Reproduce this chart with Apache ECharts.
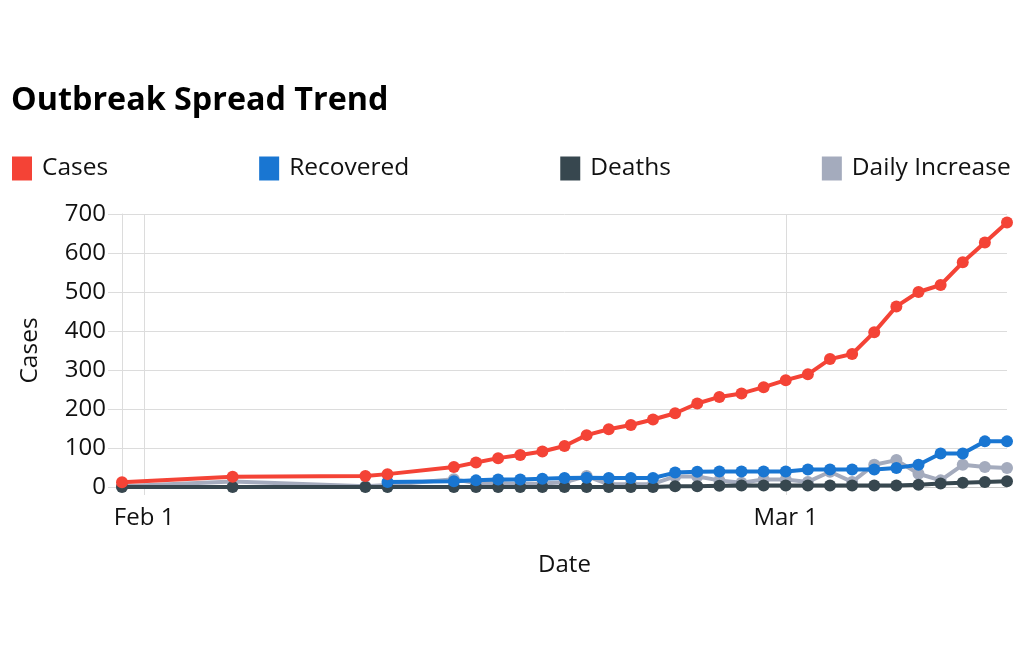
<!DOCTYPE html>
<html>
<head>
<meta charset="utf-8">
<script src="https://cdn.jsdelivr.net/npm/echarts@6/dist/echarts.min.js"></script>
<style>
html, body { margin: 0; padding: 0; background: #fff; }
#chart { width: 1024px; height: 667px; }
</style>
</head>
<body>
<div id="chart"></div>
<script>
var dates = ['2020-01-31', '2020-02-05', '2020-02-11', '2020-02-12', '2020-02-15', '2020-02-16',
    '2020-02-17', '2020-02-18', '2020-02-19', '2020-02-20', '2020-02-21', '2020-02-22', '2020-02-23',
    '2020-02-24', '2020-02-25', '2020-02-26', '2020-02-27', '2020-02-28', '2020-02-29', '2020-03-01',
    '2020-03-02', '2020-03-03', '2020-03-04', '2020-03-05', '2020-03-06', '2020-03-07', '2020-03-08',
    '2020-03-09', '2020-03-10', '2020-03-11'];
var cases = [12, 26, 28, 33, 51, 63, 74, 82, 91, 105, 133, 148, 159, 173, 189, 214, 231, 240, 256, 274,
    289, 328, 341, 397, 463, 500, 518, 576, 627, 678];
var recovered = [null, null, null, 13, 15, 17, 19, 19, 21, 23, 24, 23, 23, 23, 37, 39, 40, 40, 40, 40,
    45, 45, 45, 45, 49, 57, 86, 86, 117, 117];
var deaths = [0, 0, 0, 0, 0, 0, 0, 0, 0, 0, 0, 0, 0, 0, 2, 2, 3, 4, 4, 4,
    4, 4, 4, 4, 4, 6, 9, 11, 13, 15];
var dailyIncrease = [2, 14, 2, 5, 20, 10, 10, 8, 9, 12, 28, 7, 7, 8, 27, 27, 17, 11, 19, 19,
    13, 39, 13, 57, 69, 34, 17, 57, 51, 49];

var tickDates = ['2020-02-01', '2020-03-01'];
var tickLabels = ['Feb 1', 'Mar 1'];

var seriesNames = ['Cases', 'Recovered', 'Deaths', 'Daily Increase'];
var seriesColors = ['#f44336', '#1976d2', '#37474f', '#a4abbd'];

var font = '"Open Sans", "Noto Sans", sans-serif';
var gridColor = '#dcdcdc';
var textColor = '#111';

// days since the first date, so the x axis is a plain value axis
var DAY = 24 * 3600 * 1000;
function toDay(s) {
    var p = s.split('-');
    return Math.round((Date.UTC(+p[0], +p[1] - 1, +p[2]) - Date.UTC(2020, 0, 31)) / DAY);
}

var tickDays = tickDates.map(toDay);

function pairs(values) {
    return dates.map(function (d, i) { return [toDay(d), values[i]]; });
}

var seriesData = [cases, recovered, deaths, dailyIncrease];
var zOrder = [4, 3, 2, 1];

var myChart = echarts.init(document.getElementById('chart'));

var option = {
    animation: false,
    title: {
        text: 'Outbreak Spread Trend',
        left: 6,
        top: 80,
        textStyle: { fontFamily: font, fontSize: 32.3, fontWeight: 'bold', color: '#000' }
    },
    legend: {
        left: 12,
        top: 156,
        padding: 0,
        icon: 'rect',
        itemWidth: 20,
        itemHeight: 24,
        itemGap: 151,
        data: seriesNames,
        textStyle: { fontFamily: font, fontSize: 24.5, color: textColor, padding: [0, 0, 0, 5] }
    },
    grid: { left: 122, right: 17, top: 214, bottom: 180, containLabel: false },
    xAxis: {
        type: 'value',
        min: toDay(dates[0]),
        max: toDay(dates[dates.length - 1]),
        name: 'Date',
        nameLocation: 'middle',
        nameGap: 66,
        nameTextStyle: { fontFamily: font, fontSize: 24, color: textColor },
        axisLine: { show: true, lineStyle: { color: '#c8c8c8', width: 1 } },
        axisTick: { show: true, length: 8, lineStyle: { color: gridColor }, customValues: tickDays },
        axisLabel: {
            fontFamily: font, fontSize: 24, color: textColor, margin: 19,
            customValues: tickDays,
            formatter: function (v) {
                var i = tickDays.indexOf(v);
                return i >= 0 ? tickLabels[i] : '';
            }
        },
        splitLine: { show: true, lineStyle: { color: gridColor, width: 1 } }
    },
    yAxis: {
        type: 'value',
        min: 0,
        max: 700,
        interval: 100,
        name: 'Cases',
        nameLocation: 'middle',
        nameGap: 79,
        nameTextStyle: { fontFamily: font, fontSize: 24.5, color: textColor },
        axisLine: { show: true, lineStyle: { color: gridColor, width: 1 } },
        axisTick: { show: true, length: 14, lineStyle: { color: gridColor } },
        axisLabel: { fontFamily: font, fontSize: 24, color: textColor, margin: 16 },
        splitLine: { show: true, lineStyle: { color: gridColor, width: 1 } }
    },
    series: seriesNames.map(function (name, k) {
        return {
            name: name,
            type: 'line',
            data: pairs(seriesData[k]),
            z: zOrder[k],
            symbol: 'circle',
            symbolSize: 12,
            showSymbol: true,
            connectNulls: false,
            itemStyle: { color: seriesColors[k] },
            lineStyle: { color: seriesColors[k], width: 4 }
        };
    })
};

myChart.setOption(option);
window.onresize = myChart.resize;
</script>
</body>
</html>
